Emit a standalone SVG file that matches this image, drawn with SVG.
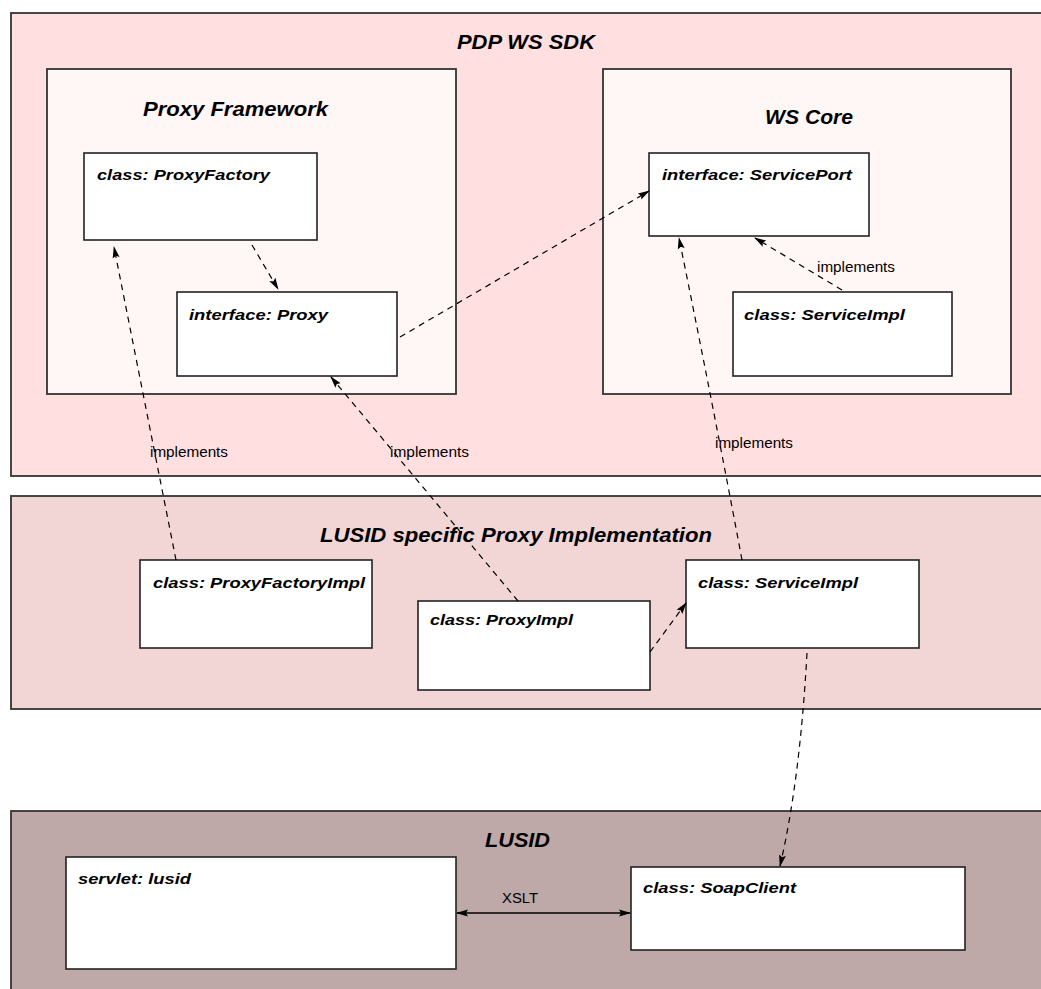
<svg xmlns="http://www.w3.org/2000/svg" width="1041" height="989" viewBox="0 0 1041 989">
  <defs>
    <style>
      .band { stroke: #333; stroke-width: 1.8; }
      .sdk { fill: #ffdfdf; }
      .impl { fill: #f2d5d5; }
      .lusid { fill: #bea8a8; }
      .pkg { fill: #fff6f6; stroke: #333; stroke-width: 1.8; }
      .node { fill: #ffffff; stroke: #222; stroke-width: 1.6; }
      .title { font-family: "Liberation Sans", Arial, sans-serif; font-weight: bold; font-style: italic; font-size: 20px; fill: #000; }
      .label { font-family: "Liberation Sans", Arial, sans-serif; font-weight: bold; font-style: italic; font-size: 15px; fill: #000; }
      .note { font-family: "Liberation Sans", Arial, sans-serif; font-size: 14px; fill: #000; }
      .dep { fill: none; stroke: #000; stroke-width: 1.2; stroke-dasharray: 6 5; marker-end: url(#head); }
      .plain { fill: none; stroke: #000; stroke-width: 1.4; }
    </style>
    <marker id="head" viewBox="0 0 12 8" refX="11" refY="4" markerWidth="12" markerHeight="8" markerUnits="userSpaceOnUse" orient="auto-start-reverse">
      <path d="M0,0.5 L12,4 L0,7.5 L2,4 z" fill="#000"/>
    </marker>
  </defs>

  <!-- package bands -->
  <g id="band-pdp-ws-sdk">
    <rect class="band sdk" x="11" y="13" width="1040" height="463"/>
    <text class="title" x="457" y="49" textLength="138" lengthAdjust="spacingAndGlyphs">PDP WS SDK</text>
  </g>
  <g id="band-lusid-proxy-impl">
    <rect class="band impl" x="11" y="496" width="1040" height="213"/>
    <text class="title" x="320" y="542" textLength="392" lengthAdjust="spacingAndGlyphs">LUSID specific Proxy Implementation</text>
  </g>
  <g id="band-lusid">
    <rect class="band lusid" x="11" y="811" width="1040" height="190"/>
    <text class="title" x="485" y="847" textLength="65" lengthAdjust="spacingAndGlyphs">LUSID</text>
  </g>

  <!-- sub-packages -->
  <g id="pkg-proxy-framework">
    <rect class="pkg" x="47" y="69" width="409" height="325"/>
    <text class="title" x="143" y="116" textLength="185" lengthAdjust="spacingAndGlyphs">Proxy Framework</text>
  </g>
  <g id="pkg-ws-core">
    <rect class="pkg" x="603" y="69" width="408" height="325"/>
    <text class="title" x="765" y="124" textLength="88" lengthAdjust="spacingAndGlyphs">WS Core</text>
  </g>

  <!-- classes and interfaces -->
  <g id="node-proxy-factory">
    <rect class="node" x="84" y="153" width="233" height="87"/>
    <text class="label" x="97" y="180" textLength="173" lengthAdjust="spacingAndGlyphs">class: ProxyFactory</text>
  </g>
  <g id="node-proxy">
    <rect class="node" x="177" y="292" width="220" height="84"/>
    <text class="label" x="189" y="320" textLength="139" lengthAdjust="spacingAndGlyphs">interface: Proxy</text>
  </g>
  <g id="node-service-port">
    <rect class="node" x="649" y="153" width="220" height="83"/>
    <text class="label" x="662" y="180" textLength="190" lengthAdjust="spacingAndGlyphs">interface: ServicePort</text>
  </g>
  <g id="node-core-service-impl">
    <rect class="node" x="733" y="292" width="219" height="84"/>
    <text class="label" x="744" y="320" textLength="161" lengthAdjust="spacingAndGlyphs">class: ServiceImpl</text>
  </g>
  <g id="node-proxy-factory-impl">
    <rect class="node" x="140" y="560" width="232" height="88"/>
    <text class="label" x="153" y="588" textLength="212" lengthAdjust="spacingAndGlyphs">class: ProxyFactoryImpl</text>
  </g>
  <g id="node-proxy-impl">
    <rect class="node" x="418" y="601" width="232" height="89"/>
    <text class="label" x="430" y="625" textLength="143" lengthAdjust="spacingAndGlyphs">class: ProxyImpl</text>
  </g>
  <g id="node-lusid-service-impl">
    <rect class="node" x="686" y="560" width="233" height="88"/>
    <text class="label" x="698" y="588" textLength="160" lengthAdjust="spacingAndGlyphs">class: ServiceImpl</text>
  </g>
  <g id="node-servlet-lusid">
    <rect class="node" x="66" y="857" width="390" height="112"/>
    <text class="label" x="78" y="884" textLength="113" lengthAdjust="spacingAndGlyphs">servlet: lusid</text>
  </g>
  <g id="node-soap-client">
    <rect class="node" x="631" y="867" width="334" height="83"/>
    <text class="label" x="643" y="893" textLength="153" lengthAdjust="spacingAndGlyphs">class: SoapClient</text>
  </g>

  <!-- connectors -->
  <g id="connectors">
    <path class="dep" d="M176,560 L114,247"/>
    <path class="dep" d="M518,601 L331,377"/>
    <path class="dep" d="M252,245 L278,289"/>
    <path class="dep" d="M400,337 L649,191"/>
    <path class="dep" d="M842,290 L755,238"/>
    <path class="dep" d="M742,560 Q712,400 679,238"/>
    <path class="dep" d="M650,652 L686,603"/>
    <path class="dep" d="M807,653 Q800,780 780,866"/>
    <path class="plain" d="M457,913 L630,913" marker-start="url(#head)" marker-end="url(#head)"/>
    <text class="note" x="150" y="457" textLength="78" lengthAdjust="spacingAndGlyphs">implements</text>
    <text class="note" x="390" y="457" textLength="79" lengthAdjust="spacingAndGlyphs">implements</text>
    <text class="note" x="715" y="448" textLength="78" lengthAdjust="spacingAndGlyphs">implements</text>
    <text class="note" x="817" y="272" textLength="78" lengthAdjust="spacingAndGlyphs">implements</text>
    <text class="note" x="502" y="903" textLength="36" lengthAdjust="spacingAndGlyphs">XSLT</text>
  </g>
</svg>
